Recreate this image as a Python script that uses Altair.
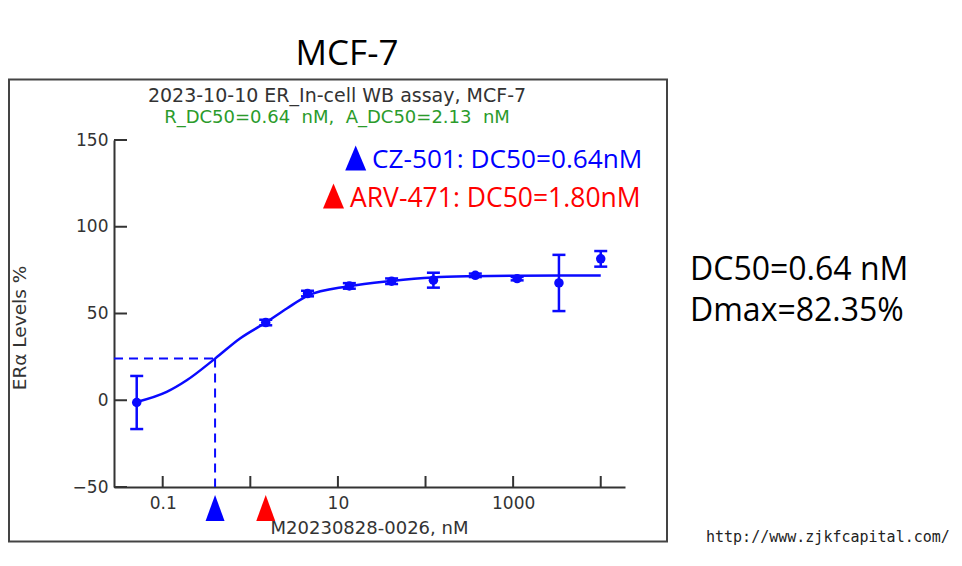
import altair as alt

# ---- data ----
conc = [0.0505, 1.5, 4.5, 13.5, 41, 123, 370, 1111, 3333, 10000]
mean = [-1.3, 44.8, 61.5, 65.9, 68.6, 69.2, 72.0, 70.1, 67.6, 81.5]
err = [15.3, 1.6, 1.6, 1.6, 1.6, 4.3, 1.0, 1.0, 16.2, 4.5]

curve_conc = [0.0505, 0.111, 0.188, 0.396, 0.762, 1.5, 2.61, 4.48, 13.2, 41.1, 122, 349, 1100, 10000]
curve_val = [-1.0, 4.8, 11.5, 24.0, 35.6, 44.8, 52.9, 60.2, 65.7, 68.8, 70.8, 71.5, 71.8, 71.9]

dc50_x = 0.396
dc50_y = 24.0
x_min, x_max = 0.0278, 18920
y_min, y_max = -50, 150

x_ticks = [0.1, 1, 10, 100, 1000, 10000]
y_ticks = [-50, 0, 50, 100, 150]

marker_conc = [0.396, 1.5]
marker_color = ["#0000ff", "#ff0000"]

W, H = 511, 347
BLUE = "#0a0aff"
AXC = "#333333"
NB = "\u00a0"

xs = alt.Scale(type="log", domain=[x_min, x_max], nice=False)
ys = alt.Scale(domain=[y_min, y_max], nice=False)

xax = alt.Axis(values=x_ticks, ticks=False, grid=False, domainColor=AXC, domainWidth=2,
               labelFont="DejaVu Sans", labelFontSize=17, labelColor=AXC, labelPadding=8,
               labelExpr="datum.value < 0.5 ? '0.1' : (datum.value > 5 && datum.value < 50) ? '10' : (datum.value > 500 && datum.value < 5000) ? '1000' : ''")
yax = alt.Axis(values=y_ticks, ticks=False, grid=False, domainColor=AXC, domainWidth=2,
               labelFont="DejaVu Sans", labelFontSize=17, labelColor=AXC, labelPadding=6)


def X(f):
    return alt.X(f"{f}:Q", scale=xs, axis=xax, title=None)


def Y(f):
    return alt.Y(f"{f}:Q", scale=ys, axis=yax, title=None)


one = alt.Data(values=[{}])

pts = alt.Data(values=[{"conc": c, "mean": m, "lo": m - e, "hi": m + e} for c, m, e in zip(conc, mean, err)])
curve = alt.Data(values=[{"conc": c, "v": v} for c, v in zip(curve_conc, curve_val)])

frame = alt.Chart(one).mark_rect(fill=None, stroke="#444444", strokeWidth=2).encode(
    x=alt.value(-105), x2=alt.value(553), y=alt.value(-60.5), y2=alt.value(401.5))

dash_h = alt.Chart(alt.Data(values=[{"x0": x_min, "x1": dc50_x, "y": dc50_y}])).mark_rule(
    color=BLUE, strokeWidth=2, strokeDash=[9, 6]).encode(x=X("x0"), x2="x1:Q", y=Y("y"))
dash_v = alt.Chart(alt.Data(values=[{"x": dc50_x, "y0": dc50_y, "y1": y_min}])).mark_rule(
    color=BLUE, strokeWidth=2, strokeDash=[9, 6]).encode(x=X("x"), y=Y("y0"), y2="y1:Q")

line = alt.Chart(curve).mark_line(color=BLUE, strokeWidth=2.5, interpolate="monotone").encode(
    x=X("conc"), y=Y("v"))

ebar = alt.Chart(pts).mark_rule(color=BLUE, strokeWidth=2.5).encode(x=X("conc"), y=Y("lo"), y2="hi:Q")
cap_lo = alt.Chart(pts).mark_tick(color=BLUE, thickness=2.5, size=13, orient="horizontal", opacity=1).encode(
    x=X("conc"), y=Y("lo"))
cap_hi = alt.Chart(pts).mark_tick(color=BLUE, thickness=2.5, size=13, orient="horizontal", opacity=1).encode(
    x=X("conc"), y=Y("hi"))
dots = alt.Chart(pts).mark_circle(color=BLUE, size=90, opacity=1).encode(x=X("conc"), y=Y("mean"))

ytk = alt.Chart(alt.Data(values=[{"v": v} for v in y_ticks])).mark_rule(color=AXC, strokeWidth=2).encode(
    y=Y("v"), x=alt.value(0), x2=alt.value(13))
xtk = alt.Chart(alt.Data(values=[{"v": v} for v in x_ticks])).mark_rule(color=AXC, strokeWidth=2).encode(
    x=X("v"), y=alt.value(H), y2=alt.value(H - 11))

tri_bottom = "M0,-1L0.73,1L-0.73,1Z"
markers = alt.Chart(alt.Data(values=[{"conc": c, "col": k} for c, k in zip(marker_conc, marker_color)])).mark_point(
    shape=tri_bottom, filled=True, size=676, opacity=1, strokeWidth=0).encode(
    x=X("conc"), y=alt.value(H + 21), color=alt.Color("col:N", scale=None))

tri_leg = "M0,-1L0.84,1L-0.84,1Z"
leg_blue = alt.Chart(one).mark_point(shape=tri_leg, filled=True, size=625, opacity=1, color="#0000ff",
                                     strokeWidth=0).encode(x=alt.value(241.7), y=alt.value(18))
leg_red = alt.Chart(one).mark_point(shape=tri_leg, filled=True, size=625, opacity=1, color="#ff0000",
                                    strokeWidth=0).encode(x=alt.value(219.5), y=alt.value(56))


def txt(s, x, y, size, color, font, align="left", angle=0, baseline="alphabetic"):
    return alt.Chart(one).mark_text(text=s, font=font, fontSize=size, color=color, align=align,
                                    baseline=baseline, angle=angle).encode(x=alt.value(x), y=alt.value(y))


texts = [
    txt("MCF-7", 233, -75, 35, "#000000", "Open Sans", align="center"),
    txt("2023-10-10 ER_In-cell WB assay, MCF-7", 223, -38.5, 19, AXC, "DejaVu Sans", align="center"),
    txt(f"R_DC50=0.64{NB} nM,{NB} A_DC50=2.13{NB} nM", 223, -17.5, 18, "#2b9b2b", "DejaVu Sans", align="center"),
    txt("CZ-501: DC50=0.64nM", 258, 28.3, 26.2, "#0000ff", "Open Sans"),
    txt("ARV-471: DC50=1.80nM", 236, 66.7, 26.5, "#ff0000", "Open Sans"),
    txt("DC50=0.64 nM", 576, 140, 32, "#000000", "Open Sans"),
    txt("Dmax=82.35%", 576, 181, 32, "#000000", "Open Sans"),
    txt("ERα Levels %", -94, 188, 18.5, AXC, "DejaVu Sans", align="center", angle=270, baseline="middle"),
    txt("M20230828-0026, nM", W / 2, 394, 18, AXC, "DejaVu Sans", align="center"),
    txt("http://www.zjkfcapital.com/", 592, 402, 15, "#222222", "DejaVu Sans Mono"),
]

chart = alt.layer(
    frame, dash_h, dash_v, line, ebar, cap_lo, cap_hi, dots, ytk, xtk, markers, leg_blue, leg_red, *texts
).properties(
    width=W, height=H,
    padding={"left": 106, "top": 132, "right": 327, "bottom": 67},
    autosize=alt.AutoSizeParams(type="none"),
    background="white",
).configure_view(stroke=None)

chart.save("out.html", embed_options={"renderer": "svg", "actions": False})
